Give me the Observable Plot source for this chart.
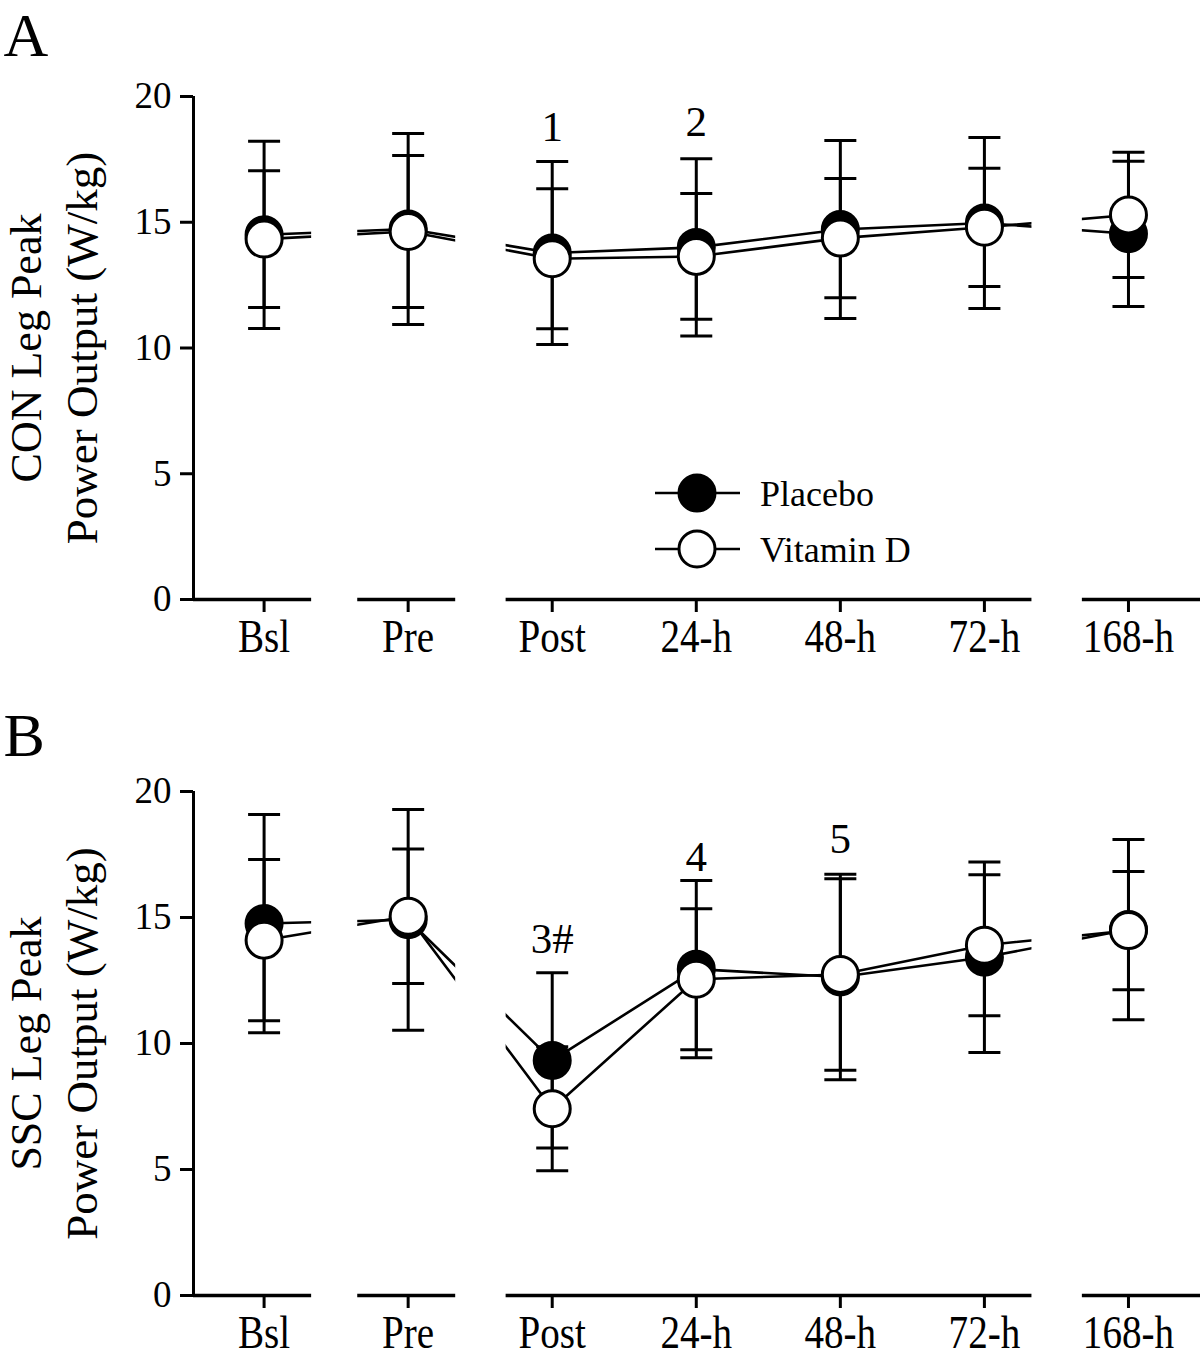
<!DOCTYPE html>
<html>
<head>
<meta charset="utf-8">
<script src="https://cdn.jsdelivr.net/npm/d3@7"></script>
<script src="https://cdn.jsdelivr.net/npm/@observablehq/plot@0.6"></script>
<style>
  body { margin: 0; background: #fff; }
  #wrap { position: relative; width: 1200px; height: 1361px; overflow: hidden; background: #fff;
          font-family: "Liberation Serif", "Times New Roman", serif; }
  .panel { position: relative; width: 1200px; }
  .panel svg { display: block; }
  .legend { position: absolute; }
</style>
</head>
<body>
<div id="wrap"></div>
<script>
// ---- Data ----
const categories = ["Bsl", "Pre", "Post", "24-h", "48-h", "72-h", "168-h"];
const seriesNames = ["Placebo", "Vitamin D"];

// Panel A: CON leg peak power output (W/kg), mean and SD
const conPlaceboMean = [14.50, 14.73, 13.78, 14.00, 14.71, 14.97, 14.54];
const conPlaceboSD   = [3.72, 3.80, 3.64, 3.52, 3.54, 3.40, 2.89];
const conVitDMean    = [14.33, 14.63, 13.55, 13.64, 14.37, 14.80, 15.29];
const conVitDSD      = [2.72, 3.02, 2.78, 2.50, 2.37, 2.35, 2.49];

// Panel B: SSC leg peak power output (W/kg), mean and SD
const sscPlaceboMean = [14.76, 14.91, 9.33, 12.95, 12.64, 13.42, 14.52];
const sscPlaceboSD   = [4.33, 4.38, 3.48, 3.52, 4.08, 3.78, 3.58];
const sscVitDMean    = [14.10, 15.05, 7.41, 12.55, 12.74, 13.90, 14.48];
const sscVitDSD      = [3.20, 2.67, 2.46, 2.80, 3.80, 2.80, 2.35];

// Significance annotations
const conAnnotLabels = ["1", "2"];
const conAnnotCats   = ["Post", "24-h"];
const conAnnotY      = [18.25, 18.42];
const sscAnnotLabels = ["3#", "4", "5"];
const sscAnnotCats   = ["Post", "24-h", "48-h"];
const sscAnnotY      = [13.58, 16.85, 17.55];

// Y ticks
const yTicks = [0, 5, 10, 15, 20];

// Broken x-axis segments (in category-index units)
const segStart = [-0.49, 0.65, 1.68, 5.68];
const segEnd   = [0.33, 1.33, 5.33, 6.5];

// ---- Build ----
const xMin = segStart[0], xMax = segEnd[segEnd.length - 1];
const segments = segStart.map((s, k) => ({start: s, end: segEnd[k]}));
const gaps = segStart.slice(1).map((s, k) => ({start: segEnd[k], end: s}));

function rowsOf(means, sds, group) {
  return means.map((m, i) => ({i, cat: categories[i], group, mean: m, sd: sds[i]}));
}

const capSymbol = {
  draw(ctx) { ctx.moveTo(-16, 0); ctx.lineTo(16, 0); }
};

function panel({pMean, pSD, vMean, vSD, annotLabels, annotCats, annotY, title1, title2, letter, height, marginTop, marginBottom, letterDy}) {
  const pl = rowsOf(pMean, pSD, seriesNames[0]);
  const vd = rowsOf(vMean, vSD, seriesNames[1]);
  const all = pl.concat(vd);
  const caps = all.flatMap(d => [{i: d.i, v: d.mean - d.sd}, {i: d.i, v: d.mean + d.sd}]);
  const annots = annotLabels.map((t, k) => ({t, i: categories.indexOf(annotCats[k]), y: annotY[k]}));

  const svg = Plot.plot({
    width: 1200,
    height,
    marginTop,
    marginBottom,
    marginLeft: 193,
    marginRight: 0,
    x: {domain: [xMin, xMax]},
    y: {domain: [0, 20]},
    style: {fontFamily: "'Liberation Serif', 'Times New Roman', serif", background: "white", color: "black", overflow: "visible"},
    marks: [
      // connecting lines
      Plot.line(pl, {x: "i", y: "mean", stroke: "black", strokeWidth: 2.6}),
      Plot.line(vd, {x: "i", y: "mean", stroke: "black", strokeWidth: 2.6}),
      // axis breaks: hide lines in the gaps
      Plot.rect(gaps, {x1: "start", x2: "end", y1: 0, y2: 20, fill: "white"}),
      // x axis broken segments
      Plot.ruleY(segments, {x1: "start", x2: "end", y: 0, stroke: "black", strokeWidth: 3.5}),
      // y axis line
      Plot.ruleX([xMin], {y1: 0, y2: 20, stroke: "black", strokeWidth: 3}),
      Plot.axisY({ticks: yTicks, tickSize: 13, tickPadding: 9, fontSize: 37, strokeWidth: 3, label: null, tickFormat: d => String(d)}),
      Plot.axisX({ticks: d3.range(categories.length), tickFormat: i => categories[i], tickSize: 13, tickPadding: 7, fontSize: 46, strokeWidth: 3, label: null}),
      // error bars
      Plot.ruleX(all, {x: "i", y1: d => d.mean - d.sd, y2: d => d.mean + d.sd, stroke: "black", strokeWidth: 3}),
      Plot.dot(caps, {x: "i", y: "v", symbol: capSymbol, r: 16, stroke: "black", fill: "none", strokeWidth: 3}),
      // means
      Plot.dot(pl, {x: "i", y: "mean", r: 18, fill: "black", stroke: "black", strokeWidth: 3}),
      Plot.dot(vd, {x: "i", y: "mean", r: 18, fill: "white", stroke: "black", strokeWidth: 3}),
      // significance annotations
      Plot.text(annots, {x: "i", y: "y", text: "t", fontSize: 43, lineAnchor: "bottom", fill: "black"}),
      // y axis title (two lines)
      Plot.text([title1], {frameAnchor: "left", rotate: -90, dx: -167, fontSize: 44, textAnchor: "middle", lineAnchor: "middle", fill: "black"}),
      Plot.text([title2], {frameAnchor: "left", rotate: -90, dx: -111, fontSize: 45, textAnchor: "middle", lineAnchor: "middle", fill: "black"}),
      // panel letter
      Plot.text([letter], {frameAnchor: "top-left", dx: -190, dy: letterDy, fontSize: 62, textAnchor: "start", lineAnchor: "top", fill: "black"})
    ]
  });
  // condensed look of the category labels, as in the original figure
  d3.select(svg).selectAll('g[aria-label="x-axis tick label"] text')
    .attr("transform", function () { return (this.getAttribute("transform") || "") + " scale(0.85,1)"; });
  return svg;
}

const wrap = document.getElementById("wrap");

const divA = document.createElement("div");
divA.className = "panel";
divA.appendChild(panel({
  pMean: conPlaceboMean, pSD: conPlaceboSD, vMean: conVitDMean, vSD: conVitDSD,
  annotLabels: conAnnotLabels, annotCats: conAnnotCats, annotY: conAnnotY,
  title1: "CON Leg Peak", title2: "Power Output (W/kg)", letter: "A",
  height: 695, marginTop: 96, marginBottom: 96, letterDy: -85
}));
wrap.appendChild(divA);

const divB = document.createElement("div");
divB.className = "panel";
divB.appendChild(panel({
  pMean: sscPlaceboMean, pSD: sscPlaceboSD, vMean: sscVitDMean, vSD: sscVitDSD,
  annotLabels: sscAnnotLabels, annotCats: sscAnnotCats, annotY: sscAnnotY,
  title1: "SSC Leg Peak", title2: "Power Output (W/kg)", letter: "B",
  height: 666, marginTop: 96, marginBottom: 66, letterDy: -80
}));
wrap.appendChild(divB);

// ---- Legend (inside panel A) ----
const legend = d3.select(divA).append("div").attr("class", "legend")
  .style("left", "650px").style("top", "468px");
const lsvg = legend.append("svg").attr("width", 300).attr("height", 110)
  .style("font-family", "'Liberation Serif', 'Times New Roman', serif");
const fills = ["black", "white"];
seriesNames.forEach((name, k) => {
  const g = lsvg.append("g").attr("transform", `translate(0,${25 + k * 56})`);
  g.append("line").attr("x1", 5).attr("x2", 90).attr("y1", 0).attr("y2", 0)
    .attr("stroke", "black").attr("stroke-width", 2.6);
  g.append("circle").attr("cx", 47).attr("cy", 0).attr("r", 18)
    .attr("fill", fills[k]).attr("stroke", "black").attr("stroke-width", 3);
  g.append("text").attr("x", 110).attr("y", 0).attr("dy", "0.35em")
    .attr("font-size", 36).attr("fill", "black").text(name);
});
</script>
</body>
</html>
